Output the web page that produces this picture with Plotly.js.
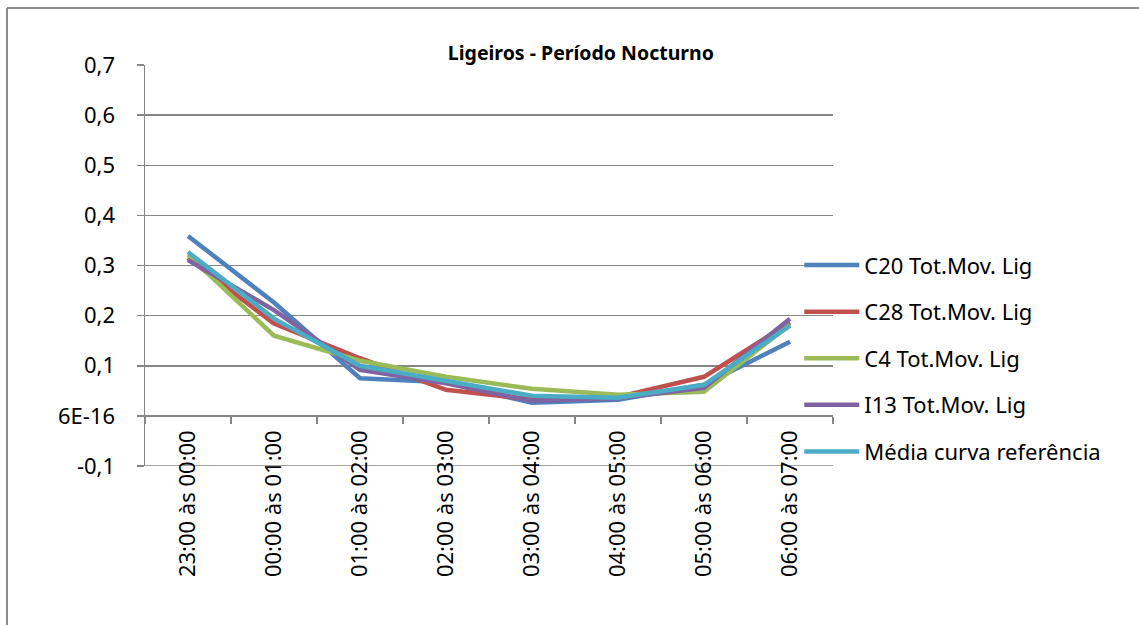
<!DOCTYPE html>
<html>
<head>
<meta charset="utf-8">
<script src="https://cdn.plot.ly/plotly-3.0.1.min.js"></script>
<style>
  html, body { margin: 0; padding: 0; background: #fff; overflow: hidden; }
  #chart { width: 1139px; height: 625px; }
</style>
</head>
<body>
<div id="chart"></div>
<script>
const categories = ["23:00 às 00:00", "00:00 às 01:00", "01:00 às 02:00", "02:00 às 03:00",
                    "03:00 às 04:00", "04:00 às 05:00", "05:00 às 06:00", "06:00 às 07:00"];
const seriesNames = ["C20 Tot.Mov. Lig", "C28 Tot.Mov. Lig", "C4 Tot.Mov. Lig", "I13 Tot.Mov. Lig", "Média curva referência"];
const c20   = [0.359, 0.226, 0.075, 0.067, 0.026, 0.032, 0.062, 0.148];
const c28   = [0.315, 0.184, 0.115, 0.052, 0.033, 0.038, 0.078, 0.186];
const c4    = [0.321, 0.160, 0.110, 0.078, 0.054, 0.042, 0.048, 0.182];
const i13   = [0.311, 0.211, 0.092, 0.065, 0.030, 0.035, 0.056, 0.194];
const media = [0.327, 0.194, 0.100, 0.070, 0.040, 0.036, 0.062, 0.180];
const yTickVals = [-0.1, 0, 0.1, 0.2, 0.3, 0.4, 0.5, 0.6, 0.7];
const yTickText = ["-0,1", "6E-16", "0,1", "0,2", "0,3", "0,4", "0,5", "0,6", "0,7"];

const colors = ["#4F81BD", "#C0504D", "#9BBB59", "#8064A2", "#4BACC6"];
const allSeries = [c20, c28, c4, i13, media];
const FONT = "Noto Sans, sans-serif";
const FS = 22;

const traces = allSeries.map((vals, i) => ({
  type: "scatter", mode: "lines",
  x: categories, y: vals, name: seriesNames[i],
  legendgroup: "g" + i,
  line: { color: colors[i], width: 4.5, shape: "linear" },
  hoverinfo: "skip"
}));

// chart frame (outer border of the chart object), in paper coordinates
const L = 145, T = 65, PW = 688, PH = 401;
const px = v => (v - L) / PW;
const py = v => (T + PH - v) / PH;

const layout = {
  width: 1139, height: 625,
  margin: { l: 145, r: 306, t: 65, b: 159, pad: 0 },
  paper_bgcolor: "#fff", plot_bgcolor: "rgba(0,0,0,0)",
  font: { family: FONT, color: "#000", size: FS },
  title: { text: "<b>Ligeiros - Período Nocturno</b>", font: { family: FONT, size: 19.5, color: "#000" },
           x: 0.51, xref: "container", xanchor: "center", y: 0.915, yref: "container", yanchor: "middle" },
  showlegend: true,
  legend: { x: 0.951, xanchor: "left", y: 0.553, yanchor: "top",
            traceorder: "grouped", tracegroupgap: 15, itemwidth: 55,
            font: { family: FONT, size: FS, color: "#000" }, bgcolor: "rgba(0,0,0,0)" },
  xaxis: {
    type: "category", categoryorder: "array", categoryarray: categories,
    range: [-0.5, 7.5], anchor: "free", position: 0.1247,
    showgrid: false, zeroline: false,
    showline: true, linecolor: "#868686", linewidth: 1.5,
    ticks: "outside", ticklen: 7, tickcolor: "#868686", tickwidth: 1.5, tickson: "boundaries",
    tickangle: -90, tickfont: { family: FONT, size: FS, color: "#000" }, ticklabelstandoff: 4,
    fixedrange: true
  },
  yaxis: {
    range: [-0.1, 0.7], tickvals: yTickVals, ticktext: yTickText,
    showgrid: true, gridcolor: "#868686", gridwidth: 1.5, zeroline: false,
    showline: true, linecolor: "#868686", linewidth: 1.5,
    ticks: "outside", ticklen: 7, tickcolor: "#868686", tickwidth: 1.5,
    tickfont: { family: FONT, size: FS, color: "#000" }, ticklabelstandoff: 17,
    fixedrange: true
  },
  shapes: [
    { type: "line", xref: "paper", yref: "y", x0: 0, x1: 1, y0: -0.1, y1: -0.1,
      line: { color: "#868686", width: 1.5 }, layer: "below" },
    { type: "line", xref: "paper", yref: "paper", x0: px(7), x1: px(1145), y0: py(8), y1: py(8),
      line: { color: "#8c8c8c", width: 2 } },
    { type: "line", xref: "paper", yref: "paper", x0: px(7), x1: px(7), y0: py(8), y1: py(630),
      line: { color: "#8c8c8c", width: 2 } }
  ]
};

Plotly.newPlot("chart", traces, layout, { staticPlot: true, displayModeBar: false });
</script>
</body>
</html>
